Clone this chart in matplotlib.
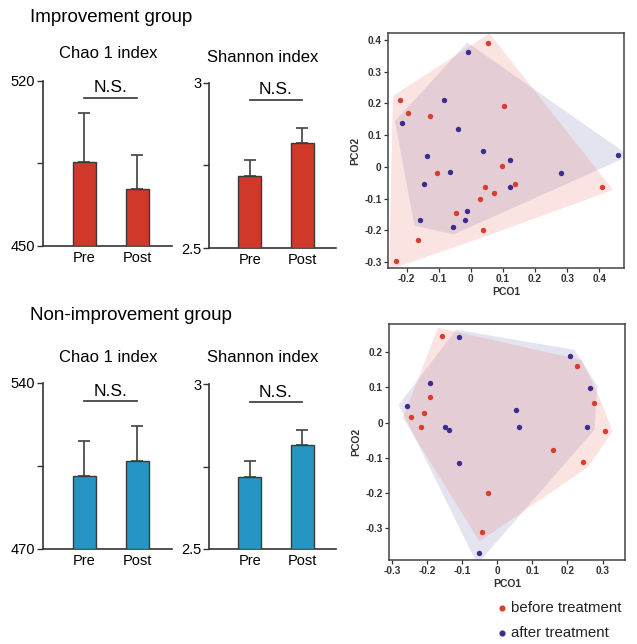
import numpy as np
import matplotlib
matplotlib.use("Agg")
import matplotlib.pyplot as plt
from matplotlib.patches import Polygon
from matplotlib.lines import Line2D

plt.rcParams['font.family'] = ['Liberation Sans', 'DejaVu Sans']
plt.rcParams['axes.unicode_minus'] = False

# ---------------- data ----------------
groups = ["Pre", "Post"]

imp_chao_mean = [485.5, 474.0]
imp_chao_sd = [21.0, 14.8]
imp_shan_mean = [2.718, 2.818]
imp_shan_sd = [0.049, 0.046]

non_chao_mean = [500.8, 507.1]
non_chao_sd = [14.7, 14.8]
non_shan_mean = [2.718, 2.815]
non_shan_sd = [0.049, 0.046]

# PCoA, improvement group
imp_before_x = [0.053, -0.221, -0.197, -0.127, 0.104, 0.096, -0.104, 0.043,
                0.139, 0.071, 0.027, -0.047, 0.037, 0.409, -0.165, -0.234]
imp_before_y = [0.391, 0.211, 0.171, 0.161, 0.192, 0.003, -0.019, -0.063,
                -0.054, -0.082, -0.100, -0.147, -0.199, -0.063, -0.231, -0.296]
imp_after_x = [-0.008, -0.083, -0.213, -0.039, 0.037, -0.136, 0.121, -0.065,
               -0.146, 0.121, 0.281, 0.459, -0.011, -0.018, -0.157, -0.056]
imp_after_y = [0.363, 0.211, 0.137, 0.119, 0.051, 0.033, 0.023, -0.017,
               -0.054, -0.063, -0.020, 0.038, -0.139, -0.167, -0.167, -0.190]

# PCoA, non-improvement group
non_before_x = [-0.157, -0.192, -0.208, -0.247, -0.217, 0.227, 0.276, 0.306,
                0.158, 0.245, -0.026, -0.045]
non_before_y = [0.247, 0.073, 0.027, 0.015, -0.013, 0.161, 0.056, -0.023,
                -0.078, -0.112, -0.201, -0.311]
non_after_x = [-0.109, 0.208, -0.192, 0.265, -0.258, 0.054, 0.063, -0.148,
               -0.139, 0.257, -0.109, -0.053]
non_after_y = [0.243, 0.189, 0.112, 0.098, 0.048, 0.035, -0.013, -0.013,
               -0.022, -0.013, -0.115, -0.372]

RED_BAR = '#d0382a'
BLUE_BAR = '#2596c4'
RED_PT = '#dc3c2d'
BLUE_PT = '#3b2c8e'
DARK = '#333333'

W, H = 637, 644
fig = plt.figure(figsize=(W / 100, H / 100), dpi=100)


def box(l, t, r, b):
    return fig.add_axes([l / W, 1 - b / H, (r - l) / W, (b - t) / H])


def bar_panel(ax, means, sds, ylim, color, lo_lab, hi_lab, ns_line, ns_text):
    x = np.arange(len(groups))
    ax.errorbar(x, means, yerr=[[0] * len(sds), sds], fmt='none', ecolor='#404040',
                elinewidth=1.2, capsize=4.3, capthick=1.2, zorder=2)
    ax.bar(x, np.array(means) - ylim[0], bottom=ylim[0], width=0.44, color=color,
           edgecolor='#3a3a3a', linewidth=1.0, zorder=3)
    ax.set_xlim(-0.78, 1.65)
    ax.set_ylim(ylim)
    for s in ['top', 'right']:
        ax.spines[s].set_visible(False)
    for s in ['left', 'bottom']:
        ax.spines[s].set_color(DARK)
        ax.spines[s].set_linewidth(1.2)
    ax.set_yticks([ylim[0], (ylim[0] + ylim[1]) / 2, ylim[1]])
    ax.set_yticklabels([lo_lab, '', hi_lab])
    ax.set_xticks(x)
    ax.set_xticklabels(groups)
    ax.tick_params(axis='x', length=0, pad=3.5, labelsize=10.5)
    ax.tick_params(axis='y', length=4, width=1, pad=1.5, labelsize=10.5, color=DARK)
    ax.plot([0, 1], [ns_line, ns_line], transform=ax.get_xaxis_transform(),
            color=DARK, lw=1.2, clip_on=False)
    ax.text(0.5, ns_text, 'N.S.', transform=ax.get_xaxis_transform(),
            ha='center', va='center', fontsize=12.5)


def convex_hull(pts):
    pts = sorted(map(tuple, pts))

    def cross(o, a, b):
        return (a[0] - o[0]) * (b[1] - o[1]) - (a[1] - o[1]) * (b[0] - o[0])
    lower, upper = [], []
    for p in pts:
        while len(lower) >= 2 and cross(lower[-2], lower[-1], p) <= 0:
            lower.pop()
        lower.append(p)
    for p in reversed(pts):
        while len(upper) >= 2 and cross(upper[-2], upper[-1], p) <= 0:
            upper.pop()
        upper.append(p)
    return np.array(lower[:-1] + upper[:-1])


def offset_poly(v, d, limit=1.6):
    n = len(v)
    out = []
    for i in range(n):
        p0, p1, p2 = v[i - 1], v[i], v[(i + 1) % n]
        e1 = p1 - p0
        e2 = p2 - p1
        n1 = np.array([e1[1], -e1[0]]) / np.hypot(*e1)
        n2 = np.array([e2[1], -e2[0]]) / np.hypot(*e2)
        m = (n1 + n2) / (1 + n1 @ n2)
        L = np.hypot(*m)
        if L > limit:
            m = m / L * limit
        out.append(p1 + d * m)
    return np.array(out)


def pcoa_panel(ax, bx, by, ax_, ay, xlim, ylim, xticks, yticks):
    ax.set_xlim(xlim)
    ax.set_ylim(ylim)
    for xs, ys, c in [(ax_, ay, '#7a7ab8'), (bx, by, '#e8756a')]:
        pts = np.column_stack([xs, ys])
        hv = convex_hull(pts)
        disp = ax.transData.transform(hv)
        disp = offset_poly(disp, 7.0)
        poly = ax.transData.inverted().transform(disp)
        ax.add_patch(Polygon(poly, closed=True, facecolor=c, alpha=0.2,
                             edgecolor='none', zorder=1))
    ax.scatter(bx, by, s=15, color=RED_PT, zorder=3, linewidths=0)
    ax.scatter(ax_, ay, s=15, color=BLUE_PT, zorder=3, linewidths=0)
    ax.set_xticks(xticks)
    ax.set_yticks(yticks)
    ax.set_xticklabels(['0' if abs(t) < 1e-9 else f'{t:.1f}' for t in xticks])
    ax.set_yticklabels(['0' if abs(t) < 1e-9 else f'{t:.1f}' for t in yticks])
    ax.tick_params(length=3, width=0.9, pad=1.5, labelsize=7.3, color=DARK,
                   labelcolor='#333333')
    for lab in ax.get_xticklabels() + ax.get_yticklabels():
        lab.set_fontweight('bold')
    for s in ax.spines.values():
        s.set_color('#444444')
        s.set_linewidth(1.1)
    ax.set_xlabel('PCO1', fontsize=7.5, fontweight='bold', color='#333333', labelpad=2)
    ax.set_ylabel('PCO2', fontsize=7.5, fontweight='bold', color='#333333', labelpad=3)


# ---------------- headings ----------------
fig.text(30 / W, 1 - 18 / H, 'Improvement group', fontsize=13.5, ha='left', va='center')
fig.text(30 / W, 1 - 316 / H, 'Non-improvement group', fontsize=13.5, ha='left', va='center')
fig.text(108 / W, 1 - 54 / H, 'Chao 1 index', fontsize=12, ha='center', va='center')
fig.text(263 / W, 1 - 57 / H, 'Shannon index', fontsize=12, ha='center', va='center')
fig.text(108 / W, 1 - 357 / H, 'Chao 1 index', fontsize=12, ha='center', va='center')
fig.text(263 / W, 1 - 357 / H, 'Shannon index', fontsize=12, ha='center', va='center')

# ---------------- bar panels ----------------
a1 = box(43, 81, 172, 246)
bar_panel(a1, imp_chao_mean, imp_chao_sd, (450, 520), RED_BAR, '450', '520', 0.897, 0.96)
a2 = box(209, 83, 336, 248)
bar_panel(a2, imp_shan_mean, imp_shan_sd, (2.5, 3.0), RED_BAR, '2.5', '3', 0.90, 0.963)
a3 = box(43, 383, 172, 549)
bar_panel(a3, non_chao_mean, non_chao_sd, (470, 540), BLUE_BAR, '470', '540', 0.89, 0.946)
a4 = box(209, 384, 336, 549)
bar_panel(a4, non_shan_mean, non_shan_sd, (2.5, 3.0), BLUE_BAR, '2.5', '3', 0.89, 0.946)

# ---------------- PCoA panels ----------------
p1 = box(388, 33, 624, 268)
pcoa_panel(p1, imp_before_x, imp_before_y, imp_after_x, imp_after_y,
           (-0.258, 0.477), (-0.319, 0.422),
           [-0.2, -0.1, 0, 0.1, 0.2, 0.3, 0.4],
           [-0.3, -0.2, -0.1, 0, 0.1, 0.2, 0.3, 0.4])
p2 = box(389, 324, 625, 560)
pcoa_panel(p2, non_before_x, non_before_y, non_after_x, non_after_y,
           (-0.309, 0.364), (-0.392, 0.281),
           [-0.3, -0.2, -0.1, 0, 0.1, 0.2, 0.3],
           [-0.3, -0.2, -0.1, 0, 0.1, 0.2])

# ---------------- legend ----------------
for yy, c, lab in [(608, RED_PT, 'before treatment'), (633, BLUE_PT, 'after treatment')]:
    fig.add_artist(Line2D([502 / W], [1 - yy / H], marker='o', ms=3.4, color=c,
                          linestyle='none', transform=fig.transFigure))
    fig.text(511 / W, 1 - yy / H, lab, fontsize=10.8, ha='left', va='center', color='#222222')

fig.savefig('out.png', dpi=100)
